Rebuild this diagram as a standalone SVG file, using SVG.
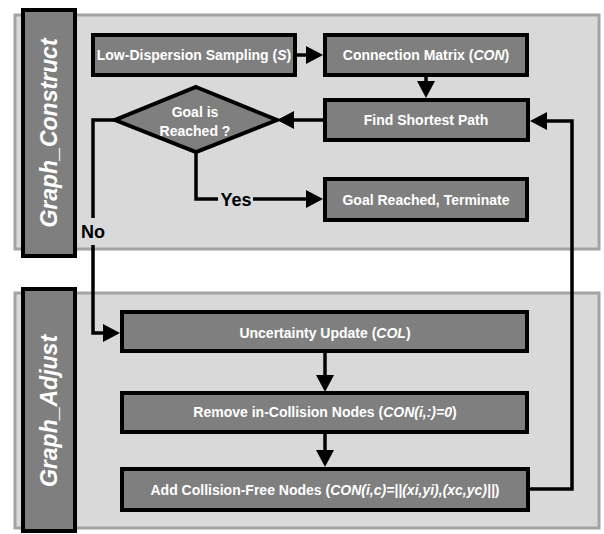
<svg xmlns="http://www.w3.org/2000/svg" width="604" height="534" viewBox="0 0 604 534">
<style>
.panel{fill:#d9d9d9;stroke:#a3a3a3;stroke-width:3}
.bar{fill:#7f7f7f;stroke:#000;stroke-width:4}
.box{fill:#7f7f7f;stroke:#000;stroke-width:4}
.t{font-family:"Liberation Sans",Arial,sans-serif;font-weight:bold;font-size:14px;fill:#fff;text-anchor:middle}
.lbl{font-family:"Liberation Sans",Arial,sans-serif;font-weight:bold;font-style:italic;font-size:23px;fill:#fff;text-anchor:middle}
.cl{font-family:"Liberation Sans",Arial,sans-serif;font-weight:bold;font-size:18px;fill:#000;text-anchor:middle}
.i{font-style:italic}
.c{fill:none;stroke:#000;stroke-width:3.5;stroke-linejoin:miter}
</style>
<defs>
<marker id="ah" markerUnits="userSpaceOnUse" markerWidth="17" markerHeight="18" refX="7" refY="9" orient="auto">
<path d="M0,0 L17,9 L0,18 z" fill="#000"/>
</marker>
</defs>
<g id="panel-construct">
<rect class="panel" x="15" y="15" width="584" height="234"/>
<rect class="bar" x="23" y="10" width="52" height="246"/>
<text class="lbl" transform="translate(49,133) rotate(-90)" y="8">Graph_Construct</text>
</g>
<g id="panel-adjust">
<rect class="panel" x="15" y="293" width="584" height="235"/>
<rect class="bar" x="23" y="289" width="52" height="242"/>
<text class="lbl" transform="translate(49,411) rotate(-90)" y="8">Graph_Adjust</text>
</g>
<g id="connectors">
<path class="c" d="M297,55 H313" marker-end="url(#ah)"/>
<path class="c" d="M426,77 V88" marker-end="url(#ah)"/>
<path class="c" d="M323,120 H287" marker-end="url(#ah)"/>
<path class="c" d="M115,120 H93 V218"/>
<path class="c" d="M93,245 V333 H110" marker-end="url(#ah)"/>
<path class="c" d="M196,152 V199 H218"/>
<path class="c" d="M253,199 H313" marker-end="url(#ah)"/>
<path class="c" d="M530,489 H572 V121 H540" marker-end="url(#ah)"/>
<path class="c" d="M325,353 V382" marker-end="url(#ah)"/>
<path class="c" d="M325,433 V457" marker-end="url(#ah)"/>
<text class="cl" x="236" y="205.5">Yes</text>
<text class="cl" x="93" y="237.5">No</text>
</g>
<g id="node-sampling">
<rect class="box" x="93" y="35" width="202" height="40"/>
<text class="t" x="194" y="60">Low-Dispersion Sampling (<tspan class="i">S</tspan>)</text>
</g>
<g id="node-con">
<rect class="box" x="325" y="35" width="202" height="40"/>
<text class="t" x="426" y="60">Connection Matrix (<tspan class="i">CON</tspan>)</text>
</g>
<g id="node-shortest">
<rect class="box" x="325" y="100" width="203" height="40"/>
<text class="t" x="426" y="125">Find Shortest Path</text>
</g>
<g id="node-goal">
<path class="box" d="M196,87 L277,120 L196,152 L115,120 z"/>
<text class="t" x="195" y="117">Goal is</text>
<text class="t" x="195" y="136">Reached ?</text>
</g>
<g id="node-terminate">
<rect class="box" x="325" y="179" width="202" height="41"/>
<text class="t" x="426" y="205">Goal Reached, Terminate</text>
</g>
<g id="node-uncertainty">
<rect class="box" x="122" y="312" width="405" height="39"/>
<text class="t" x="325" y="338">Uncertainty Update (<tspan class="i">COL</tspan>)</text>
</g>
<g id="node-remove">
<rect class="box" x="122" y="393" width="405" height="39"/>
<text class="t" x="325" y="417">Remove in-Collision Nodes (<tspan class="i">CON(i,:)=0</tspan>)</text>
</g>
<g id="node-add">
<rect class="box" x="122" y="469" width="406" height="41"/>
<text class="t" x="325" y="495">Add Collision-Free Nodes (<tspan class="i">CON(i,c)=||(xi,yi),(xc,yc)||</tspan>)</text>
</g>
</svg>
